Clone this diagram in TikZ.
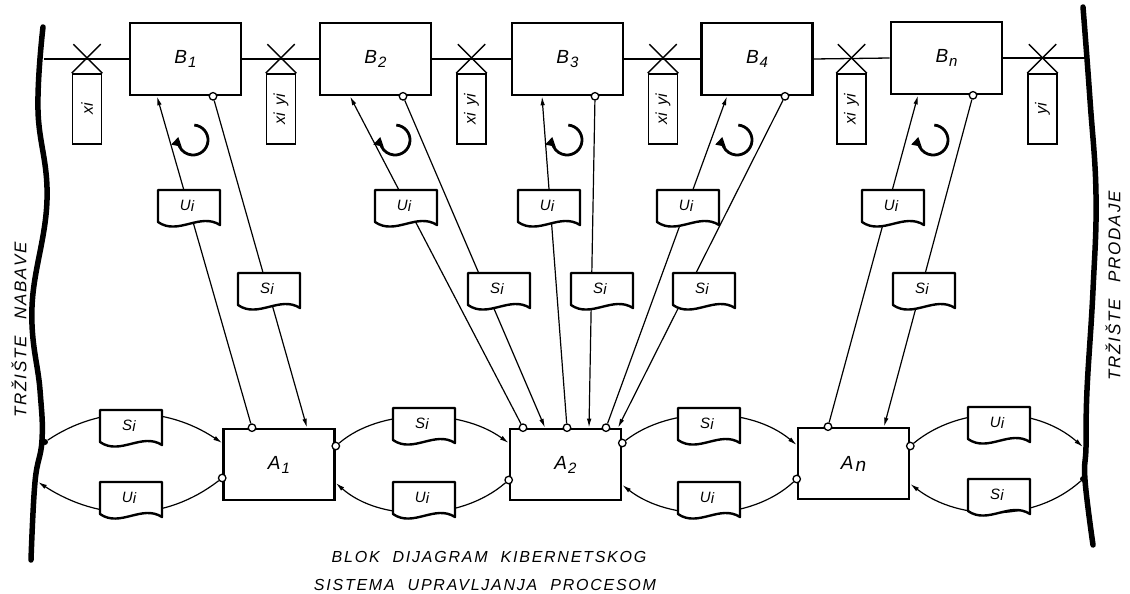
\documentclass[tikz,border=0pt]{standalone}
\usepackage{fontspec}
\usepackage{graphicx}
\setmainfont{Liberation Sans}
\newfontfamily\capfont[LetterSpace=11]{Liberation Sans}
\usetikzlibrary{arrows.meta,calc}
\newcommand{\bl}[2]{#1\kern1pt\raisebox{-4pt}{\fontsize{15}{15}\selectfont #2}}
\newcommand{\dl}[1]{#1\kern0.3pt\raisebox{-1.5pt}{i}}
\newcommand{\docnode}[4]{%
  \begin{scope}[shift={(#2,#3)}]
    \draw[docbox] (0,0) -- (62,0) -- (62,35) .. controls (42,22) and (20,46) .. (0,32) -- cycle;
    \node[doclbl] (#1) at (29,16) {#4};
  \end{scope}}
\newcommand{\tagmark}[3]{%
  \node[tagbox] (#1) at (#2,109) {};
  \node[taglbl, rotate=90] (#1t) at (#1) {#3};
  \draw[tagx] (#1.north west) -- ++(29,-29);
  \draw[tagx] (#1.north east) -- ++(-29,-29);}
\begin{document}
\begin{tikzpicture}[x=1pt,y=-1pt,
  bbox/.style={draw, line width=2.6pt, minimum width=111pt, minimum height=72pt, inner sep=0pt,
    font=\fontsize{19}{19}\selectfont\itshape},
  abox/.style={draw, line width=2.6pt, minimum width=111pt, minimum height=71pt, inner sep=0pt,
    font=\fontsize{19}{19}\selectfont\itshape},
  port/.style={circle, draw, fill=white, line width=1.3pt, inner sep=0pt, minimum size=7.5pt},
  blackdot/.style={circle, fill=black, inner sep=0pt, minimum size=6pt},
  conn/.style={line width=1.2pt, -{Latex[length=9pt,width=4.5pt]}},
  hline/.style={line width=1.3pt},
  border/.style={line width=5.5pt, line cap=round},
  docbox/.style={line width=2.4pt, fill=white, line join=round},
  doclbl/.style={inner sep=0pt, font=\fontsize{15}{15}\selectfont\itshape},
  tagbox/.style={draw, line width=1.6pt, fill=white, minimum width=29pt, minimum height=70pt, inner sep=0pt},
  taglbl/.style={inner sep=0pt, font=\fontsize{16}{16}\selectfont\itshape},
  tagx/.style={line width=1.4pt},
  rot/.style={line width=2.8pt, -{Triangle[length=9pt,width=10pt]}},
  sidetext/.style={inner sep=0pt, font=\capfont\fontsize{17}{17}\selectfont\itshape},
  captext/.style={inner sep=0pt, font=\capfont\fontsize{16}{16}\selectfont\itshape}
]
\useasboundingbox (0,0) rectangle (1130,594);
\fill[white] (0,0) rectangle (1130,594);

% market borders
\draw[border] plot[smooth, tension=0.7] coordinates {(43,27) (38,110) (47,200) (32,307) (40,390) (42,440) (35,482) (31,560)};
\draw[border] plot[smooth, tension=0.7] coordinates {(1083,7) (1090,100) (1096,195) (1093,290) (1087,390) (1086,447) (1085,480) (1093,545)};
\coordinate (LT) at (44,59);
\coordinate (RT) at (1085,58);

% B boxes
\node[bbox] (B1) at (185.5,59) {\bl{B}{1}};
\node[bbox] (B2) at (375.5,59) {\bl{B}{2}};
\node[bbox] (B3) at (567.5,59) {\bl{B}{3}};
\node[bbox] (B4) at (757,59) {\bl{B}{4}};
\node[bbox] (Bn) at (946.5,58) {\bl{B}{n}};

% top line
\draw[hline] (LT) -- (B1.west);
\draw[hline] (B1.east) -- (B2.west);
\draw[hline] (B2.east) -- (B3.west);
\draw[hline] (B3.east) -- (B4.west);
\draw[hline] (B4.east) -- (Bn.west);
\draw[hline] (Bn.east) -- (RT);

% tags
\tagmark{T1}{87}{xi}
\tagmark{T2}{281}{xi\hspace{7pt}yi}
\tagmark{T3}{471.5}{xi\hspace{7pt}yi}
\tagmark{T4}{663}{xi\hspace{7pt}yi}
\tagmark{T5}{851.5}{xi\hspace{7pt}yi}
\tagmark{T6}{1042.5}{yi}

% A boxes
\node[abox] (A1) at (279,464.5) {\bl{A}{1}};
\node[abox] (A2) at (565.5,464.5) {\bl{A}{2}};
\node[abox] (An) at (853.5,463.5) {A\kern2pt\raisebox{-2pt}{n}};

% circular arrows
\draw[rot] (193,140) ++(-85:15) arc[start angle=-85, end angle=192, radius=15];
\draw[rot] (395,140) ++(-85:15) arc[start angle=-85, end angle=192, radius=15];
\draw[rot] (567,140) ++(-85:15) arc[start angle=-85, end angle=192, radius=15];
\draw[rot] (737,140) ++(-85:15) arc[start angle=-85, end angle=192, radius=15];
\draw[rot] (933,140) ++(-85:15) arc[start angle=-85, end angle=192, radius=15];

% B - A connectors
\node[port] (pa1) at ([xshift=-27pt]A1.north) {};
\draw[conn] (pa1) -- ([xshift=-28.5pt]B1.south);
\node[port] (pb1) at ([xshift=27.5pt]B1.south) {};
\draw[conn] (pb1) -- ([xshift=28pt]A1.north);

\node[port] (pa2) at ([xshift=-42.5pt]A2.north) {};
\draw[conn] (pa2) -- ([xshift=-25.5pt]B2.south);
\node[port] (pb2) at ([xshift=27.5pt]B2.south) {};
\draw[conn] (pb2) -- ([xshift=-20.5pt]A2.north);

\node[port] (pa3) at ([xshift=1.5pt]A2.north) {};
\draw[conn] (pa3) -- ([xshift=-25.5pt]B3.south);
\node[port] (pb3) at ([xshift=27.5pt]B3.south) {};
\draw[conn] (pb3) -- ([xshift=23.5pt]A2.north);

\node[port] (pa4) at ([xshift=40.5pt]A2.north) {};
\draw[conn] (pa4) -- ([xshift=-30pt]B4.south);
\node[port] (pb4) at ([xshift=28pt]B4.south) {};
\draw[conn] (pb4) -- ([xshift=52.5pt]A2.north);

\node[port] (pa5) at ([xshift=-25.5pt]An.north) {};
\draw[conn] (pa5) -- ([xshift=-28.5pt]Bn.south);
\node[port] (pb5) at ([xshift=26.5pt]Bn.south) {};
\draw[conn] (pb5) -- ([xshift=30.5pt]An.north);

% bottom curves
\node[blackdot] (dl) at (45,442) {};
\coordinate (LB) at (38,482);
\draw[conn] (dl) .. controls (100,405) and (165,405) .. ([yshift=21.5pt]A1.west);
\node[port] (pl1) at ([yshift=-13.5pt]A1.west) {};
\draw[conn] (pl1) .. controls (165,522) and (100,522) .. (LB);

\node[port] (pr1) at ([yshift=18.5pt]A1.east) {};
\draw[conn] (pr1) .. controls (380,408) and (460,408) .. ([yshift=21.5pt]A2.west);
\node[port] (pl2) at ([yshift=-15.5pt]A2.west) {};
\draw[conn] (pl2) .. controls (460,522) and (380,522) .. ([yshift=-18.5pt]A1.east);

\node[port] (pr2) at ([yshift=21.5pt]A2.east) {};
\draw[conn] (pr2) .. controls (670,406) and (750,406) .. ([yshift=18.5pt]An.west);
\node[port] (pl3) at ([yshift=-15.5pt]An.west) {};
\draw[conn] (pl3) .. controls (750,522) and (670,522) .. ([yshift=-20.5pt]A2.east);

\node[port] (pr3) at ([yshift=17.5pt]An.east) {};
\coordinate (RB) at (1083,447);
\draw[conn] (pr3) .. controls (960,405) and (1035,405) .. (RB);
\node[blackdot] (dr) at (1083,479) {};
\draw[conn] (dr) .. controls (1035,522) and (960,522) .. ([yshift=-20.5pt]An.east);

% documents on vertical connectors
\docnode{U1}{158}{190}{\dl{U}}
\docnode{U2}{375}{190}{\dl{U}}
\docnode{U3}{518}{190}{\dl{U}}
\docnode{U4}{657}{190}{\dl{U}}
\docnode{U5}{862}{190}{\dl{U}}
\docnode{S1}{238}{273}{\dl{S}}
\docnode{S2}{468}{273}{\dl{S}}
\docnode{S3}{571}{273}{\dl{S}}
\docnode{S4}{673}{273}{\dl{S}}
\docnode{S5}{893}{273}{\dl{S}}

% documents on bottom curves
\docnode{LS}{100}{410}{\dl{S}}
\docnode{LU}{100}{482}{\dl{U}}
\docnode{MS1}{393}{408}{\dl{S}}
\docnode{MU1}{393}{482}{\dl{U}}
\docnode{MS2}{678}{408}{\dl{S}}
\docnode{MU2}{678}{482}{\dl{U}}
\docnode{RU}{968}{407}{\dl{U}}
\docnode{RS}{968}{479}{\dl{S}}

% side texts
\node[sidetext, rotate=90] (nabava) at (19,330) {TRŽIŠTE\hspace{16pt}NABAVE};
\node[sidetext, rotate=90] (prodaja) at (1113,286) {TRŽIŠTE\hspace{16pt}PRODAJE};

% caption
\node[captext] (cap1) at (489,557) {BLOK\hspace{13pt}DIJAGRAM\hspace{13pt}KIBERNETSKOG};
\node[captext] (cap2) at (485,585) {SISTEMA\hspace{13pt}UPRAVLJANJA\hspace{13pt}PROCESOM};
\end{tikzpicture}
\end{document}
